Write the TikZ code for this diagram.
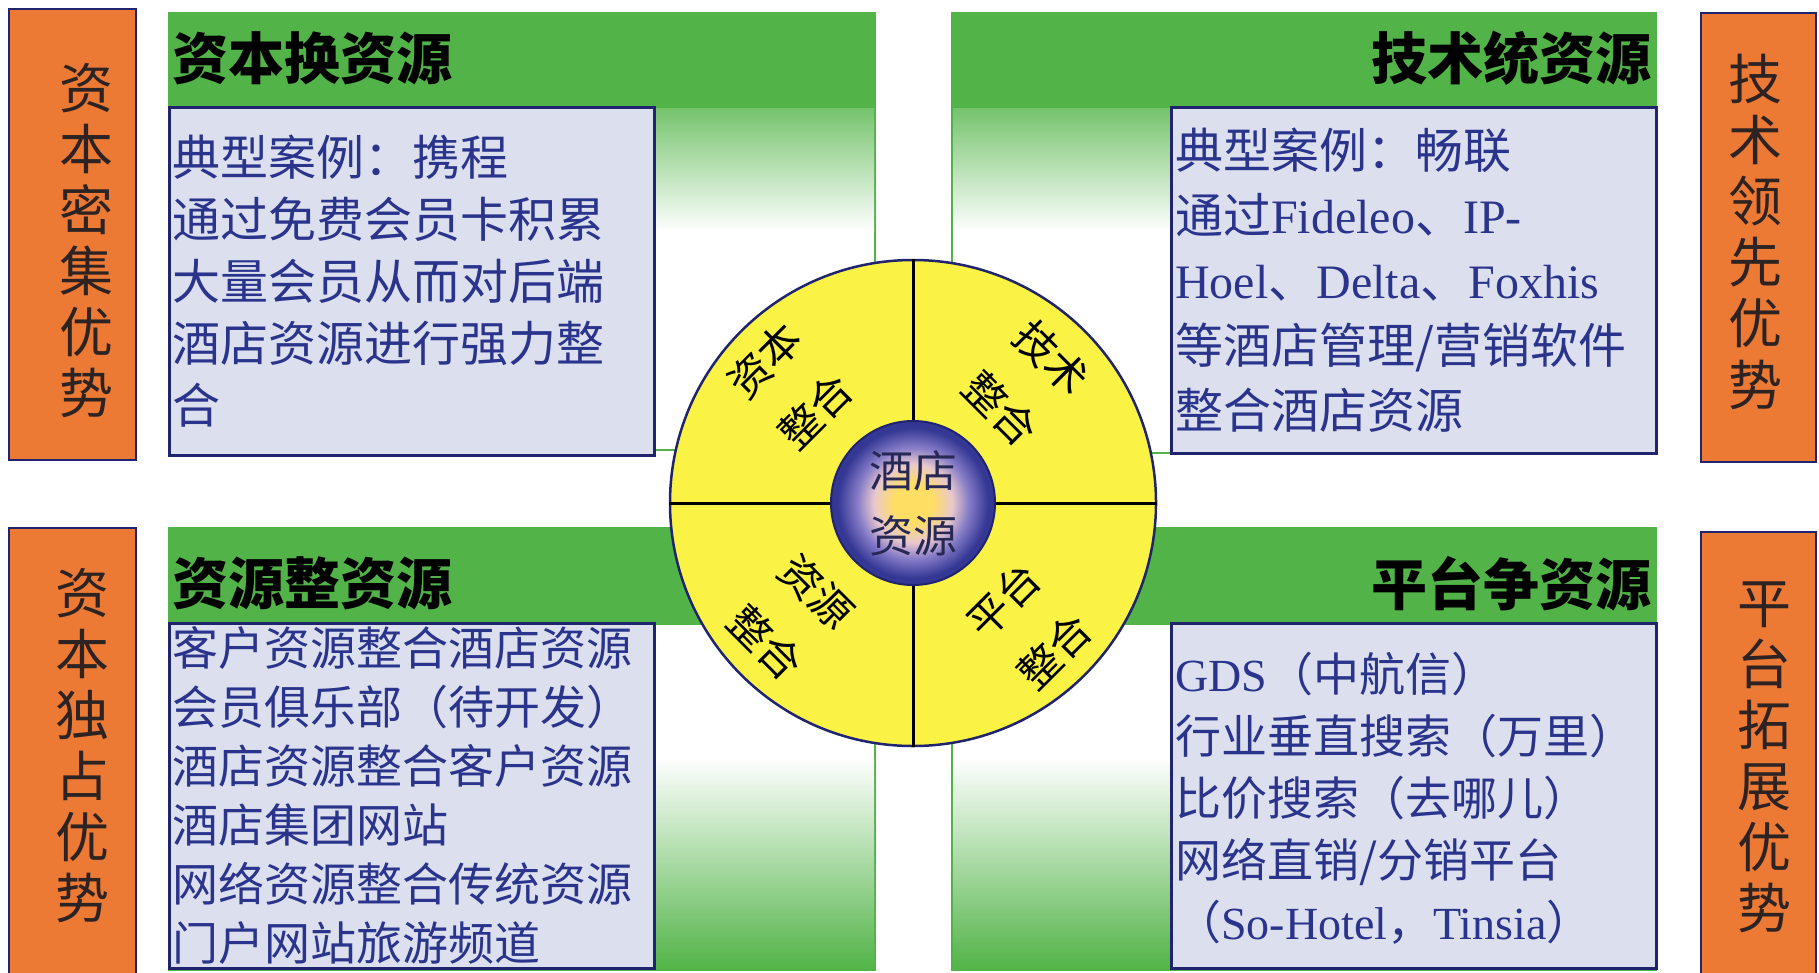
\documentclass[tikz,border=0pt]{standalone}
\usepackage{fontspec}
\setmainfont{Liberation Serif}
\newfontfamily\cjk{Noto Sans CJK SC}
\newcommand\latw[1]{{\rmfamily #1}}
\definecolor{hgreen}{RGB}{82,180,72}
\definecolor{orng}{RGB}{236,122,52}
\definecolor{navy}{RGB}{32,36,110}
\definecolor{bfill}{RGB}{220,224,238}
\definecolor{btext}{RGB}{42,52,140}
\definecolor{yel}{RGB}{250,243,70}
\definecolor{incore}{RGB}{255,222,100}
\definecolor{inpink}{RGB}{232,200,205}
\definecolor{inpurp}{RGB}{135,125,200}
\definecolor{inedge}{RGB}{52,55,148}
\definecolor{sidecol}{RGB}{45,35,35}
\pgfdeclareradialshading{coreshade}{\pgfpoint{0bp}{0bp}}{color(0bp)=(incore); color(6bp)=(incore); color(12bp)=(inpink); color(17bp)=(inpurp); color(23bp)=(inedge); color(50bp)=(inedge)}
\begin{document}
\begin{tikzpicture}[x=1pt,y=-1pt,
  frame/.style={draw=hgreen,line width=2pt},
  header/.style={fill=hgreen},
  bluebox/.style={fill=bfill,draw=navy,line width=3pt},
  orangebox/.style={fill=orng,draw=navy,line width=2pt},
  headtxt/.style={font=\cjk\bfseries\fontsize{56}{60}\selectfont,text=black,inner sep=0pt},
  bodytxt/.style={text=btext,inner sep=0pt,align=left,anchor=north west},
  sidetxt/.style={font=\cjk\fontsize{54}{61}\selectfont,text=sidecol,inner sep=0pt,align=center},
  ringtxt/.style={font=\cjk\fontsize{42}{72}\selectfont,text=black,inner sep=0pt,align=center},
]
\useasboundingbox[fill=white] (0,0) rectangle (1819,972);

% top-left panel
\draw[frame] (169,13) rectangle (875,450);
\fill[header] (169,13) rectangle (875,108);
\shade[top color=hgreen!80!white,bottom color=white] (654,108) rectangle (874,232);
\draw[bluebox] (169,107) rectangle (654,455);

% top-right panel
\draw[frame] (952,13) rectangle (1656,453);
\fill[header] (952,13) rectangle (1656,108);
\shade[top color=hgreen!80!white,bottom color=white] (953,108) rectangle (1171,232);
\draw[bluebox] (1171,107) rectangle (1656,453);

% bottom-left panel
\draw[frame] (169,528) rectangle (875,970);
\fill[header] (169,528) rectangle (875,625);
\shade[top color=white,bottom color=hgreen] (654,757) rectangle (874,969);
\draw[bluebox] (169,623) rectangle (654,968);

% bottom-right panel
\draw[frame] (952,528) rectangle (1656,970);
\fill[header] (952,528) rectangle (1656,625);
\shade[top color=white,bottom color=hgreen] (953,757) rectangle (1171,969);
\draw[bluebox] (1171,623) rectangle (1656,968);

% side boxes
\draw[orangebox] (9,9) rectangle (136,460);
\draw[orangebox] (1701,13) rectangle (1816,462);
\draw[orangebox] (9,528) rectangle (136,976);
\draw[orangebox] (1701,532) rectangle (1816,976);

% ring
\node[circle,minimum size=486pt,inner sep=0pt,fill=yel,draw=navy,line width=2.5pt] (ring) at (913,503) {};
\draw[line width=3pt] (ring.north) -- (ring.south);
\draw[line width=3pt] (ring.west) -- (ring.east);
\node[circle,minimum size=164pt,inner sep=0pt,shading=coreshade,draw=navy,line width=2pt] (core) at (913,503) {};
\node[font=\cjk\fontsize{44}{65}\selectfont,text={rgb,255:red,40;green,40;blue,85},inner sep=0pt,align=center] (coret) at (core) {酒店\\资源};

\node[ringtxt,rotate=45] (q1) at (790,386) {资本\\整合};
\node[ringtxt,rotate=-45] (q2) at (1026,383) {技术\\整合};
\node[ringtxt,rotate=-45] (q3) at (791,617) {资源\\整合};
\node[ringtxt,rotate=45] (q4) at (1029,626) {平台\\整合};

% headers
\node[headtxt,anchor=west] (h1) at (172,58) {资本换资源};
\node[headtxt,anchor=east] (h2) at (1652,58) {技术统资源};
\node[headtxt,anchor=west] (h3) at (172,583) {资源整资源};
\node[headtxt,anchor=east] (h4) at (1652,584) {平台争资源};

% bodies
\node[bodytxt,font=\cjk\fontsize{48}{62}\selectfont] (b1) at (172,135)
  {典型案例：携程\\通过免费会员卡积累\\大量会员从而对后端\\酒店资源进行强力整\\合};
\node[bodytxt,font=\cjk\fontsize{48}{65}\selectfont] (b2) at (1175,128)
  {典型案例：畅联\\通过\latw{Fideleo}、\latw{IP-}\\\latw{Hoel}、\latw{Delta}、\latw{Foxhis}\\等酒店管理/营销软件\\整合酒店资源};
\node[bodytxt,font=\cjk\fontsize{46}{59}\selectfont] (b3) at (172,626)
  {客户资源整合酒店资源\\会员俱乐部（待开发）\\酒店资源整合客户资源\\酒店集团网站\\网络资源整合传统资源\\门户网站旅游频道};
\node[bodytxt,font=\cjk\fontsize{46}{62}\selectfont] (b4) at (1175,652)
  {\latw{GDS}（中航信）\\行业垂直搜索（万里）\\比价搜索（去哪儿）\\网络直销/分销平台\\（\latw{So-Hotel}，\latw{Tinsia}）};

% side texts
\node[sidetxt] (s1) at (86,241) {资\\本\\密\\集\\优\\势};
\node[sidetxt] (s2) at (1755,232) {技\\术\\领\\先\\优\\势};
\node[sidetxt] (s3) at (82,746) {资\\本\\独\\占\\优\\势};
\node[sidetxt] (s4) at (1764,757) {平\\台\\拓\\展\\优\\势};
\end{tikzpicture}
\end{document}
